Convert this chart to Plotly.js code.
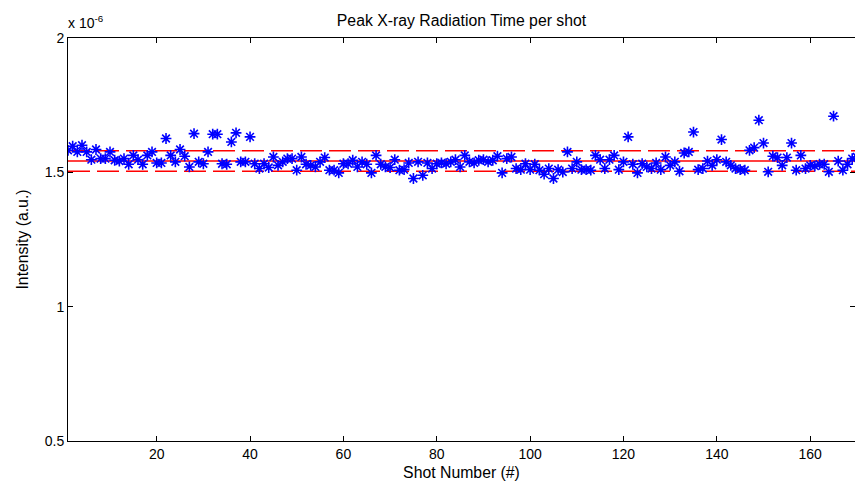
<!DOCTYPE html>
<html>
<head>
<meta charset="utf-8">
<script src="https://cdn.plot.ly/plotly-3.0.1.min.js"></script>
<style>html,body{margin:0;padding:0;background:#fff;}#chart{width:855px;height:487px;}</style>
</head>
<body>
<div id="chart"></div>
<script>
// Peak intensity per shot, in units of 1e-6
const intensity = [
  1.582,1.597,1.576,1.601,1.576,1.547,1.585,1.551,1.551,1.576,
  1.545,1.542,1.551,1.530,1.563,1.547,1.530,1.563,1.576,1.535,
  1.535,1.626,1.563,1.539,1.585,1.560,1.520,1.644,1.539,1.532,
  1.576,1.642,1.642,1.532,1.530,1.613,1.647,1.539,1.539,1.632,
  1.532,1.514,1.532,1.518,1.557,1.526,1.539,1.551,1.551,1.508,
  1.557,1.530,1.526,1.520,1.539,1.555,1.508,1.508,1.498,1.532,
  1.532,1.545,1.520,1.539,1.530,1.498,1.563,1.530,1.520,1.518,
  1.547,1.508,1.510,1.535,1.477,1.539,1.489,1.535,1.514,1.532,
  1.535,1.532,1.539,1.547,1.520,1.563,1.539,1.535,1.545,1.547,
  1.539,1.545,1.560,1.498,1.551,1.557,1.514,1.510,1.532,1.510,
  1.530,1.508,1.493,1.514,1.477,1.510,1.501,1.576,1.514,1.539,
  1.510,1.510,1.508,1.563,1.547,1.514,1.547,1.563,1.510,1.539,
  1.632,1.530,1.498,1.532,1.520,1.514,1.535,1.510,1.557,1.526,
  1.539,1.504,1.572,1.576,1.650,1.510,1.514,1.542,1.526,1.547,
  1.622,1.539,1.526,1.514,1.510,1.508,1.582,1.592,1.694,1.609,
  1.502,1.560,1.555,1.526,1.555,1.609,1.508,1.563,1.514,1.526,
  1.523,1.530,1.530,1.502,1.709,1.542,1.508,1.530,1.551,1.557
];
const shots = intensity.map((_, i) => i + 1);
// Reference levels: mean and mean ± one std
const meanLevel = 1.5424;
const stdLevel = 0.0382;
const xTicks = [20, 40, 60, 80, 100, 120, 140, 160];
const yTicks = [0.5, 1, 1.5, 2];

const xEnds = [shots[0], shots[shots.length - 1]];
const redSolid = {
  x: xEnds, y: [meanLevel, meanLevel], mode: 'lines', hoverinfo: 'skip',
  line: {color: '#ff0000', width: 1.5}
};
const redUpper = {
  x: xEnds, y: [meanLevel + stdLevel, meanLevel + stdLevel], mode: 'lines', hoverinfo: 'skip',
  line: {color: '#ff0000', width: 1.5, dash: '22px,7px'}
};
const redLower = {
  x: xEnds, y: [meanLevel - stdLevel, meanLevel - stdLevel], mode: 'lines', hoverinfo: 'skip',
  line: {color: '#ff0000', width: 1.5, dash: '22px,7px'}
};
const pts = {
  x: shots, y: intensity, mode: 'markers', type: 'scatter',
  marker: {symbol: 'asterisk-open', size: 9, color: '#0000ff', line: {color: '#0000ff', width: 1.6}}
};

const fam = 'Liberation Sans, Arial, sans-serif';
const titleFont = {family: fam, size: 15.8, color: '#000'};
const tickFont = {family: fam, size: 14, color: '#000'};
const layout = {
  width: 855, height: 487,
  margin: {l: 68, r: 0, t: 38, b: 46, pad: 0},
  paper_bgcolor: '#ffffff', plot_bgcolor: '#ffffff',
  showlegend: false,
  font: tickFont,
  title: {text: 'Peak X-ray Radiation Time per shot', font: titleFont, xref: 'paper', x: 0.5, xanchor: 'center', y: 0.958, yanchor: 'middle'},
  xaxis: {
    range: [1, 169.6], tickvals: xTicks, ticktext: xTicks.map(String),
    ticks: 'inside', ticklen: 5, tickcolor: '#000', tickwidth: 1,
    showline: true, linecolor: '#000', linewidth: 1, mirror: 'ticks',
    showgrid: false, zeroline: false, tickfont: tickFont,
    title: {text: 'Shot Number (#)', font: titleFont, standoff: 6}
  },
  yaxis: {
    range: [0.5, 2], tickvals: yTicks, ticktext: yTicks.map(String),
    ticks: 'inside', ticklen: 5, tickcolor: '#000', tickwidth: 1,
    showline: true, linecolor: '#000', linewidth: 1, mirror: 'ticks',
    showgrid: false, zeroline: false, tickfont: tickFont,
    title: {text: 'Intensity (a.u.)', font: titleFont, standoff: 12}
  },
  annotations: [{
    text: 'x 10<sup>-6</sup>', xref: 'paper', yref: 'paper', x: 0, y: 1,
    xanchor: 'left', yanchor: 'bottom', yshift: 5, xshift: -2, showarrow: false, font: tickFont
  }]
};
Plotly.newPlot('chart', [redUpper, redSolid, redLower, pts], layout, {displayModeBar: false, staticPlot: true});
</script>
</body>
</html>
